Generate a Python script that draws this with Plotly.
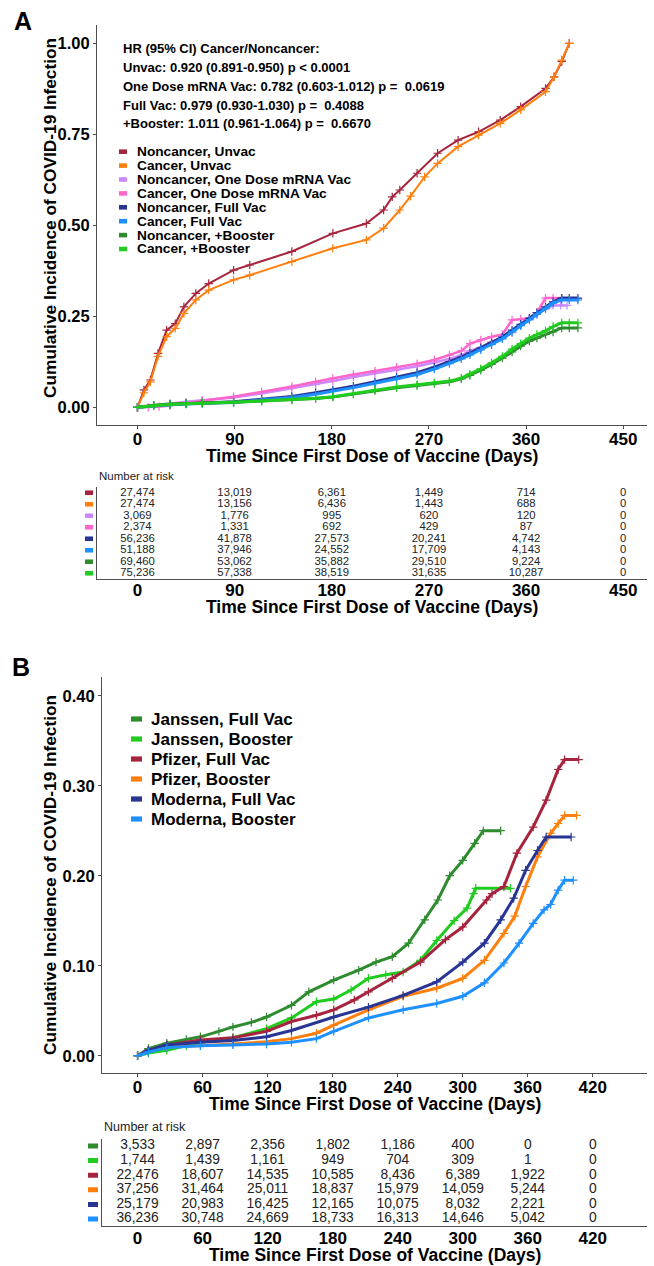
import plotly.graph_objects as go

W, H = 654, 1266

# ---------------- Panel A data ----------------
a_names = ["Noncancer, Unvac", "Cancer, Unvac", "Noncancer, One Dose mRNA Vac", "Cancer, One Dose mRNA Vac",
           "Noncancer, Full Vac", "Cancer, Full Vac", "Noncancer, +Booster", "Cancer, +Booster"]
a_colors = ["#A6243D", "#FF7F0E", "#CC88FF", "#FF66CC", "#283593", "#1E90FF", "#2E8B2E", "#1FCC1F"]

a_nc_unvac_days = [0, 6, 12, 19, 27, 35, 43, 54, 66, 89, 104, 143, 181, 212, 228, 236, 243, 259, 278, 297,
                   316, 336, 355, 378, 386, 393, 400]
a_nc_unvac_vals = [0, 0.048, 0.075, 0.148, 0.212, 0.23, 0.276, 0.313, 0.34, 0.377, 0.391, 0.428, 0.478, 0.505,
                   0.542, 0.578, 0.597, 0.643, 0.698, 0.734, 0.757, 0.789, 0.826, 0.876, 0.908, 0.95, 1.0]
a_c_unvac_days = [0, 6, 12, 19, 27, 35, 43, 54, 66, 89, 104, 143, 181, 212, 228, 243, 253, 266, 278, 297,
                  316, 336, 355, 378, 386, 393, 400]
a_c_unvac_vals = [0, 0.04, 0.07, 0.14, 0.194, 0.217, 0.258, 0.295, 0.322, 0.35, 0.363, 0.40, 0.437, 0.46,
                  0.492, 0.542, 0.58, 0.633, 0.67, 0.716, 0.748, 0.78, 0.817, 0.867, 0.908, 0.954, 1.0]
a_nc_one_days = [0, 15, 30, 45, 60, 89, 115, 143, 165, 181, 200, 220, 240, 259, 275, 289, 300, 308, 318,
                 328, 338, 347, 355, 363, 370, 378, 385, 392, 398]
a_nc_one_vals = [0, 0.006, 0.01, 0.015, 0.019, 0.027, 0.038, 0.052, 0.063, 0.072, 0.083, 0.093, 0.103, 0.113,
                 0.123, 0.133, 0.143, 0.155, 0.165, 0.18, 0.19, 0.205, 0.225, 0.24, 0.255, 0.27, 0.28, 0.28, 0.28]
a_c_one_days = [0, 10, 20, 30, 45, 60, 89, 115, 143, 165, 181, 200, 220, 240, 259, 275, 289, 300, 308, 318,
                328, 338, 347, 355, 363, 370, 378, 385, 393]
a_c_one_vals = [0, 0.0, 0.002, 0.005, 0.012, 0.018, 0.029, 0.042, 0.057, 0.07, 0.08, 0.09, 0.1, 0.11, 0.12,
                0.13, 0.143, 0.155, 0.175, 0.185, 0.194, 0.2, 0.24, 0.242, 0.245, 0.26, 0.3, 0.3, 0.3]
a_lower_days = [0, 15, 30, 45, 60, 89, 115, 143, 165, 181, 200, 220, 240, 259, 275, 289, 300, 308, 318, 328,
                338, 347, 355, 363, 370, 378, 385, 393, 400, 408]
a_nc_full_vals = [0, 0.005, 0.008, 0.01, 0.012, 0.015, 0.022, 0.03, 0.04, 0.048, 0.058, 0.07, 0.082, 0.095,
                  0.11, 0.125, 0.138, 0.149, 0.163, 0.177, 0.193, 0.212, 0.228, 0.245, 0.26, 0.276, 0.29, 0.30,
                  0.30, 0.30]
a_c_full_vals = [0, 0.004, 0.007, 0.009, 0.011, 0.013, 0.02, 0.027, 0.036, 0.044, 0.054, 0.066, 0.078, 0.09,
                 0.105, 0.12, 0.133, 0.144, 0.158, 0.172, 0.188, 0.207, 0.224, 0.241, 0.256, 0.272, 0.286, 0.295,
                 0.295, 0.295]
a_nc_boost_vals = [0, 0.006, 0.009, 0.011, 0.012, 0.014, 0.017, 0.02, 0.024, 0.028, 0.037, 0.046, 0.054, 0.06,
                   0.065, 0.07, 0.078, 0.088, 0.102, 0.118, 0.135, 0.152, 0.168, 0.182, 0.19, 0.2, 0.207, 0.218,
                   0.218, 0.218]
a_c_boost_vals = [0, 0.005, 0.008, 0.01, 0.012, 0.014, 0.017, 0.021, 0.025, 0.029, 0.038, 0.048, 0.056, 0.062,
                  0.067, 0.072, 0.08, 0.091, 0.106, 0.122, 0.14, 0.16, 0.175, 0.19, 0.2, 0.21, 0.222, 0.232,
                  0.232, 0.232]

a_series = [
    (a_nc_unvac_days, a_nc_unvac_vals), (a_c_unvac_days, a_c_unvac_vals),
    (a_nc_one_days, a_nc_one_vals), (a_c_one_days, a_c_one_vals),
    (a_lower_days, a_nc_full_vals), (a_lower_days, a_c_full_vals),
    (a_lower_days, a_nc_boost_vals), (a_lower_days, a_c_boost_vals),
]
a_widths = [2, 2, 2.5, 2.5, 3, 3, 3, 3]

a_hr_lines = ["HR (95% CI) Cancer/Noncancer:",
              "Unvac: 0.920 (0.891-0.950) p < 0.0001",
              "One Dose mRNA Vac: 0.782 (0.603-1.012) p =  0.0619",
              "Full Vac: 0.979 (0.930-1.030) p =  0.4088",
              "+Booster: 1.011 (0.961-1.064) p =  0.6670"]

a_risk_times = [0, 90, 180, 270, 360, 450]
a_risk = [
    [27474, 13019, 6361, 1449, 714, 0],
    [27474, 13156, 6436, 1443, 688, 0],
    [3069, 1776, 995, 620, 120, 0],
    [2374, 1331, 692, 429, 87, 0],
    [56236, 41878, 27573, 20241, 4742, 0],
    [51188, 37946, 24552, 17709, 4143, 0],
    [69460, 53062, 35882, 29510, 9224, 0],
    [75236, 57338, 38519, 31635, 10287, 0],
]
a_yticks = [0, 0.25, 0.5, 0.75, 1.0]

# ---------------- Panel B data ----------------
b_names = ["Janssen, Full Vac", "Janssen, Booster", "Pfizer, Full Vac", "Pfizer, Booster",
           "Moderna, Full Vac", "Moderna, Booster"]
b_colors = ["#2E8B2E", "#1FCC1F", "#A6243D", "#FF7F0E", "#283593", "#1E90FF"]

b_jan_full_days = [0, 10, 27, 45, 58, 75, 88, 105, 119, 142, 158, 181, 204, 220, 235, 250, 265, 277, 288, 300,
                   311, 319, 335]
b_jan_full_vals = [0, 0.008, 0.014, 0.018, 0.021, 0.027, 0.032, 0.037, 0.043, 0.056, 0.071, 0.084, 0.095, 0.104,
                   0.11, 0.125, 0.151, 0.173, 0.2, 0.217, 0.236, 0.25, 0.25]
b_jan_boost_days = [0, 10, 27, 45, 58, 88, 119, 142, 165, 181, 197, 213, 229, 245, 261, 276, 292, 304, 310, 312,
                    344]
b_jan_boost_vals = [0, 0.003, 0.006, 0.011, 0.015, 0.02, 0.03, 0.042, 0.06, 0.063, 0.073, 0.086, 0.09, 0.093,
                    0.106, 0.128, 0.15, 0.164, 0.18, 0.186, 0.186]
b_pfi_full_days = [0, 10, 27, 58, 88, 119, 142, 165, 181, 200, 213, 235, 261, 284, 300, 322, 327, 338, 350, 365,
                   377, 388, 394, 407]
b_pfi_full_vals = [0, 0.006, 0.012, 0.0175, 0.02, 0.027, 0.038, 0.045, 0.051, 0.062, 0.071, 0.086, 0.104, 0.129,
                   0.143, 0.173, 0.18, 0.188, 0.225, 0.254, 0.284, 0.318, 0.329, 0.329]
b_pfi_boost_days = [0, 10, 27, 58, 88, 119, 142, 165, 181, 213, 245, 276, 300, 320, 338, 348, 358, 369, 381, 388,
                    394, 405]
b_pfi_boost_vals = [0, 0.005, 0.01, 0.011, 0.013, 0.0155, 0.019, 0.025, 0.034, 0.051, 0.066, 0.075, 0.086, 0.106,
                    0.136, 0.155, 0.188, 0.221, 0.247, 0.258, 0.267, 0.267]
b_mod_full_days = [0, 10, 27, 58, 88, 119, 142, 181, 213, 245, 276, 300, 320, 335, 347, 358, 369, 377, 400]
b_mod_full_vals = [0, 0.006, 0.012, 0.015, 0.017, 0.021, 0.028, 0.043, 0.054, 0.067, 0.082, 0.104, 0.125, 0.151,
                   0.175, 0.206, 0.228, 0.243, 0.243]
b_mod_boost_days = [0, 10, 27, 58, 88, 119, 142, 165, 181, 213, 245, 276, 300, 320, 338, 352, 365, 375, 381, 388,
                    394, 402]
b_mod_boost_vals = [0, 0.004, 0.009, 0.011, 0.012, 0.013, 0.015, 0.019, 0.027, 0.042, 0.051, 0.058, 0.066, 0.081,
                    0.103, 0.125, 0.147, 0.162, 0.168, 0.184, 0.195, 0.195]

b_series = [
    (b_jan_full_days, b_jan_full_vals), (b_jan_boost_days, b_jan_boost_vals),
    (b_pfi_full_days, b_pfi_full_vals), (b_pfi_boost_days, b_pfi_boost_vals),
    (b_mod_full_days, b_mod_full_vals), (b_mod_boost_days, b_mod_boost_vals),
]

b_risk_times = [0, 60, 120, 180, 240, 300, 360, 420]
b_risk = [
    [3533, 2897, 2356, 1802, 1186, 400, 0, 0],
    [1744, 1439, 1161, 949, 704, 309, 1, 0],
    [22476, 18607, 14535, 10585, 8436, 6389, 1922, 0],
    [37256, 31464, 25011, 18837, 15979, 14059, 5244, 0],
    [25179, 20983, 16425, 12165, 10075, 8032, 2221, 0],
    [36236, 30748, 24669, 18733, 16313, 14646, 5042, 0],
]
b_yticks = [0, 0.1, 0.2, 0.3, 0.4]

x_title = "Time Since First Dose of Vaccine (Days)"
y_title = "Cumulative Incidence of COVID-19 Infection"

# ---------------- layout helpers ----------------
FONT = "Arial, Liberation Sans, sans-serif"
AXC = "#4d4d4d"
TXT = "#222222"


def px_x(p):
    return p / W


def px_y(p):
    return 1 - p / H


fig = go.Figure()

# Panel A curves
for (d, v), c, w in zip(a_series, a_colors, a_widths):
    fig.add_trace(go.Scatter(x=d, y=v, mode="lines+markers", line=dict(color=c, width=w),
                             marker=dict(symbol="cross-thin", size=6, line=dict(width=1.2, color=c)),
                             showlegend=False, hoverinfo="skip", xaxis="x", yaxis="y"))
# Panel A risk table
n_a = len(a_risk)
for i, row in enumerate(a_risk):
    fig.add_trace(go.Scatter(x=a_risk_times, y=[n_a - 1 - i] * len(row), mode="text",
                             text=[f"{v:,}" for v in row], textposition="middle center",
                             textfont=dict(family=FONT, size=11.3, color=TXT),
                             showlegend=False, hoverinfo="skip", xaxis="x2", yaxis="y2"))
# Panel B curves
for (d, v), c in zip(b_series, b_colors):
    fig.add_trace(go.Scatter(x=d, y=v, mode="lines+markers", line=dict(color=c, width=3),
                             marker=dict(symbol="cross-thin", size=6, line=dict(width=1.2, color=c)),
                             showlegend=False, hoverinfo="skip", xaxis="x3", yaxis="y3"))
# Panel B risk table
n_b = len(b_risk)
for i, row in enumerate(b_risk):
    fig.add_trace(go.Scatter(x=b_risk_times, y=[n_b - 1 - i] * len(row), mode="text",
                             text=[f"{v:,}" for v in row], textposition="middle center",
                             textfont=dict(family=FONT, size=13.8, color=TXT),
                             showlegend=False, hoverinfo="skip", xaxis="x4", yaxis="y4"))

tickfont = dict(family=FONT, size=17, color="black", weight="bold")

# domains in px
A_left, A_right = 97, 647
B_left, B_right = 102, 647
A_top, A_bot = 25, 425
AT_top, AT_bot = 487, 579
B_top, B_bot = 677, 1073
BT_top, BT_bot = 1138.7, 1226.3

plot_x = dict(showline=True, linecolor=AXC, linewidth=1, ticks="outside", ticklen=3, tickcolor=AXC,
              showgrid=False, zeroline=False, tickfont=tickfont, ticklabelstandoff=-4)
table_x = dict(showline=True, linecolor=AXC, linewidth=1, ticks="", showgrid=False, zeroline=False,
               tickfont=tickfont, ticklabelstandoff=-4)
common_y = dict(showline=True, linecolor=AXC, linewidth=1, ticks="outside", ticklen=3, tickcolor=AXC,
                showgrid=False, zeroline=False, tickformat=".2f",
                tickfont=dict(family=FONT, size=16.5, color="black", weight="bold"))
table_y = dict(showline=True, linecolor=AXC, linewidth=1, showticklabels=False, ticks="",
               showgrid=False, zeroline=False)

fig.update_layout(
    width=W, height=H, margin=dict(l=0, r=0, t=0, b=0),
    paper_bgcolor="white", plot_bgcolor="white", showlegend=False,
    xaxis=dict(domain=[px_x(A_left), px_x(A_right)], range=[-37.5, 472], anchor="y",
               tickvals=a_risk_times, **plot_x),
    yaxis=dict(domain=[px_y(A_bot), px_y(A_top)], range=[-0.0486, 1.0503], anchor="x",
               tickvals=a_yticks, **common_y),
    xaxis2=dict(domain=[px_x(A_left), px_x(A_right)], range=[-37.5, 472], anchor="y2",
                tickvals=a_risk_times, **table_x),
    yaxis2=dict(domain=[px_y(AT_bot), px_y(AT_top)], range=[-0.5, n_a - 0.5], anchor="x2", **table_y),
    xaxis3=dict(domain=[px_x(B_left), px_x(B_right)], range=[-32.8, 470], anchor="y3",
                tickvals=b_risk_times, **plot_x),
    yaxis3=dict(domain=[px_y(B_bot), px_y(B_top)], range=[-0.0192, 0.4208], anchor="x3",
                tickvals=b_yticks, **common_y),
    xaxis4=dict(domain=[px_x(B_left), px_x(B_right)], range=[-32.8, 470], anchor="y4",
                tickvals=b_risk_times, **table_x),
    yaxis4=dict(domain=[px_y(BT_bot), px_y(BT_top)], range=[-0.5, n_b - 0.5], anchor="x4", **table_y),
)

ann = []
shapes = []


def text(xp, yp, s, size, bold=True, xanchor="left", angle=0, family=FONT, color="black"):
    ann.append(dict(x=px_x(xp), y=px_y(yp), xref="paper", yref="paper", text=s, showarrow=False,
                    xanchor=xanchor, yanchor="middle", textangle=angle,
                    font=dict(family=family, size=size, color=color, weight="bold" if bold else "normal")))


# panel letters
text(23, 21, "A", 25, xanchor="center")
text(21, 667, "B", 25, xanchor="center")

# HR annotation
for k, line in enumerate(a_hr_lines):
    text(121, 49 + k * 18.75, line, 13)

# Legend A
for k, (nm, c) in enumerate(zip(a_names, a_colors)):
    yc = 151.7 + k * 13.9
    shapes.append(dict(type="rect", xref="paper", yref="paper", x0=px_x(119), x1=px_x(127),
                       y0=px_y(yc + 2.3), y1=px_y(yc - 2.3), fillcolor=c, line=dict(width=0)))
    text(135, yc, nm, 13.7)

# Legend B
for k, (nm, c) in enumerate(zip(b_names, b_colors)):
    yc = 719 + k * 20
    shapes.append(dict(type="rect", xref="paper", yref="paper", x0=px_x(131), x1=px_x(142),
                       y0=px_y(yc + 2.6), y1=px_y(yc - 2.6), fillcolor=c, line=dict(width=0)))
    text(149, yc, nm, 17)

# Axis titles
text(50, 218, y_title, 17.3, xanchor="center", angle=-90)
text(50, 875, y_title, 17.3, xanchor="center", angle=-90)
text((A_left + A_right) / 2, 456, x_title, 17.5, xanchor="center")
text((A_left + A_right) / 2, 607, x_title, 17.5, xanchor="center")
text((B_left + B_right) / 2, 1104, x_title, 17.5, xanchor="center")
text((B_left + B_right) / 2, 1255, x_title, 17.5, xanchor="center")

# Number at risk
text(A_left, 476, "Number at risk", 11.5, bold=False, color=TXT)
text(B_left, 1127, "Number at risk", 12.5, bold=False, color=TXT)

# table swatches
for i, c in enumerate(a_colors):
    shapes.append(dict(type="rect", xref="paper", yref="y2", x0=px_x(85), x1=px_x(93),
                       y0=n_a - 1 - i - 0.2, y1=n_a - 1 - i + 0.2, fillcolor=c, line=dict(width=0)))
for i, c in enumerate(b_colors):
    shapes.append(dict(type="rect", xref="paper", yref="y4", x0=px_x(88), x1=px_x(98),
                       y0=n_b - 1 - i - 0.17, y1=n_b - 1 - i + 0.17, fillcolor=c, line=dict(width=0)))

fig.update_layout(annotations=ann, shapes=shapes)
# remove the browser's default 8px body margin so the figure sits at the page origin
fig.write_html("out.html", config={"displayModeBar": False},
               post_script="document.body.style.margin='0px';")
